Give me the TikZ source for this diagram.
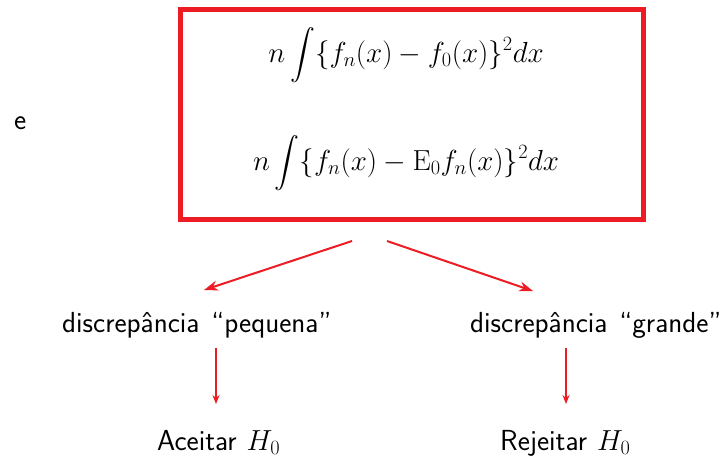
\RequirePackage{fix-cm}
\documentclass[tikz,border=0pt]{standalone}
\usepackage{amsmath}
\usetikzlibrary{arrows.meta}
\definecolor{boxred}{RGB}{237,28,36}
\tikzset{
  txt/.style={inner sep=0pt, font=\fontsize{29}{34}\selectfont\sffamily},
  frm/.style={inner sep=0pt, font=\fontsize{29}{34}\selectfont},
  redarrow/.style={draw=boxred, line width=2pt, -{Stealth[length=14pt,width=10pt]}},
  vredarrow/.style={draw=boxred, line width=2.5pt, -{Stealth[length=9pt,width=7pt]}},
}
\begin{document}
\begin{tikzpicture}[x=1pt,y=-1pt]
\useasboundingbox (0,0) rectangle (722,458);
\draw[boxred, line width=5pt] (180,9.5) rectangle (643,219);
\node[frm, anchor=base] (f1) at (406,62) {$\displaystyle n\int\{f_n(x)-f_0(x)\}^2dx$};
\node[frm, anchor=base] (f2) at (406,170) {$\displaystyle n\int\{f_n(x)-\mathrm{E}_0f_n(x)\}^2dx$};
\node[txt, anchor=base west] (e) at (14,129) {e};
\node[txt, anchor=base west] (peq) at (62,332) {discrepância\hspace{12pt}``pequena''};
\node[txt, anchor=base west] (gra) at (470,332) {discrepância\hspace{12pt}``grande''};
\node[txt, anchor=base west] (acc) at (157,450) {Aceitar\hspace{10pt}$H_0$};
\node[txt, anchor=base west] (rej) at (500,450) {Rejeitar\hspace{10pt}$H_0$};
\coordinate (s1) at (352,241);
\coordinate (s2) at (387,241);
\coordinate (e1) at (204,290);
\coordinate (e2) at (533,291);
\coordinate (v1s) at (216,348);
\coordinate (v1e) at (216,404);
\coordinate (v2s) at (566,348);
\coordinate (v2e) at (566,404);
\draw[redarrow] (s1) -- (e1);
\draw[redarrow] (s2) -- (e2);
\draw[vredarrow] (v1s) -- (v1e);
\draw[vredarrow] (v2s) -- (v2e);
\end{tikzpicture}
\end{document}
